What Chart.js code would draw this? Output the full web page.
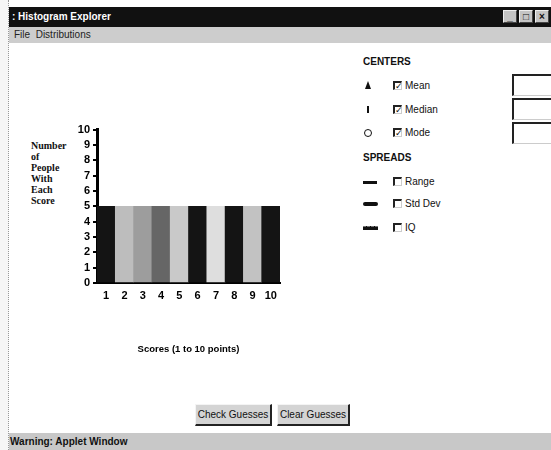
<!DOCTYPE html>
<html>
<head>
<meta charset="utf-8">
<script src="https://cdn.jsdelivr.net/npm/chart.js@4.4.0/dist/chart.umd.min.js"></script>
<style>
    body { margin: 0; width: 551px; height: 450px; position: relative; overflow: hidden; background: #fff; font-family: "Liberation Sans", Arial, sans-serif; color: #111; }
    .abs { position: absolute; }
    #edge { left: 0; top: 0; width: 8px; height: 450px; background: #f6f6f6; border-right: 1px dotted #999; }
    #titlebar { left: 9px; top: 7px; width: 542px; height: 20px; background: #111; color: #fff; font-size: 10px; font-weight: bold; line-height: 20px; padding-left: 3px; box-sizing: border-box; }
    .winbtn { top: 10px; width: 14px; height: 13px; background: #c4c4c4; border: 1px solid #eee; border-right-color: #444; border-bottom-color: #444; box-sizing: border-box; font-size: 10px; line-height: 11px; text-align: center; color: #111; font-weight: bold; }
    #menubar { left: 9px; top: 27px; width: 542px; height: 16px; background: #cdcdcd; font-size: 10px; line-height: 16px; padding-left: 5px; box-sizing: border-box; color: #222; }
    #chartBox { left: 60px; top: 120px; width: 240px; height: 250px; }
    #ytitle { left: 31px; top: 140px; font-family: "Liberation Serif", serif; font-weight: bold; font-size: 10px; line-height: 11px; }
    .txt { font-size: 10px; line-height: 12px; }
    .head { font-weight: bold; font-size: 10px; }
    .cb { width: 9px; height: 9px; border-top: 2px solid #222; border-left: 2px solid #222; border-right: 1px solid #ccc; border-bottom: 1px solid #ccc; box-sizing: border-box; font-size: 9px; line-height: 7px; text-align: center; font-family: "DejaVu Sans", sans-serif; font-weight: bold; }
    .field { left: 512px; width: 45px; height: 22px; border-top: 2px solid #222; border-left: 2px solid #222; border-right: 1px solid #ccc; border-bottom: 1px solid #ccc; box-sizing: border-box; background: #fff; }
    .btn { top: 404px; height: 22px; background: #d4d4d4; border: 1px solid #f4f4f4; border-right: 2px solid #222; border-bottom: 2px solid #222; box-sizing: border-box; font-size: 10px; line-height: 19px; text-align: center; color: #111; }
    #status { left: 9px; top: 433px; width: 542px; height: 17px; background: #c8c8c8; font-size: 10px; font-weight: bold; line-height: 18px; padding-left: 1px; box-sizing: border-box; color: #111; }
</style>
</head>
<body>
<div id="edge" class="abs"></div>
<div id="titlebar" class="abs">: Histogram Explorer</div>
<div class="abs winbtn" style="left:503px;">_</div>
<div class="abs winbtn" style="left:519px;">□</div>
<div class="abs winbtn" style="left:535px;">×</div>
<div id="menubar" class="abs">File&nbsp;&nbsp;Distributions</div>

<div id="ytitle" class="abs">Number<br>of<br>People<br>With<br>Each<br>Score</div>
<div id="chartBox" class="abs"><canvas id="histChart" width="240" height="250"></canvas></div>

<!-- right panel -->
<div class="abs head" style="left:363px; top:56px;">CENTERS</div>
<div class="abs" style="left:365px; top:81px; width:0; height:0; border-left:3px solid transparent; border-right:3px solid transparent; border-bottom:8px solid #111;"></div>
<div class="abs cb" style="left:393px; top:81px;">✓</div>
<div class="abs txt" style="left:405px; top:80px;">Mean</div>
<div class="abs" style="left:367px; top:106px; width:2px; height:7px; background:#111;"></div>
<div class="abs cb" style="left:393px; top:105px;">✓</div>
<div class="abs txt" style="left:405px; top:104px;">Median</div>
<div class="abs" style="left:364px; top:129px; width:6px; height:6px; border:1.5px solid #111; border-radius:50%;"></div>
<div class="abs cb" style="left:393px; top:128px;">✓</div>
<div class="abs txt" style="left:405px; top:127px;">Mode</div>

<div class="abs head" style="left:363px; top:152px;">SPREADS</div>
<div class="abs" style="left:363px; top:181px; width:14px; height:3px; background:#111;"></div>
<div class="abs cb" style="left:393px; top:177px;"></div>
<div class="abs txt" style="left:405px; top:176px;">Range</div>
<div class="abs" style="left:363px; top:202px; width:15px; height:4px; background:#111; border-radius:2px;"></div>
<div class="abs cb" style="left:393px; top:199px;"></div>
<div class="abs txt" style="left:405px; top:198px;">Std Dev</div>
<div class="abs" style="left:363px; top:226px; width:15px; height:3px; background:#111; border-top:1px dashed #777;"></div>
<div class="abs cb" style="left:393px; top:223px;"></div>
<div class="abs txt" style="left:405px; top:222px;">IQ</div>

<div class="abs field" style="top:74px;"></div>
<div class="abs field" style="top:98px;"></div>
<div class="abs field" style="top:122px;"></div>

<div class="abs btn" style="left:195px; width:77px;">Check Guesses</div>
<div class="abs btn" style="left:277px; width:73px;">Clear Guesses</div>

<div id="status" class="abs">Warning: Applet Window</div>

<script>
// Histogram data: one bar per score, all with 5 people
const scores = ['1', '2', '3', '4', '5', '6', '7', '8', '9', '10'];
const peopleCounts = [5, 5, 5, 5, 5, 5, 5, 5, 5, 5];
const barColors = ['#141414', '#bdbdbd', '#9d9d9d', '#666666', '#c9c9c9', '#141414', '#dedede', '#141414', '#c2c2c2', '#141414'];
const yMin = 0;
const yMax = 10;
const xTitle = 'Scores (1 to 10 points)';

const tickFont = { family: 'Liberation Sans', size: 11, weight: 'bold' };

new Chart(document.getElementById('histChart').getContext('2d'), {
    type: 'bar',
    data: {
        labels: scores,
        datasets: [{
            data: peopleCounts,
            backgroundColor: barColors,
            borderWidth: 0,
            barPercentage: 1,
            categoryPercentage: 1
        }]
    },
    options: {
        responsive: false,
        animation: false,
        devicePixelRatio: 1,
        layout: { padding: { top: 3, right: 20, left: 0, bottom: 0 } },
        plugins: {
            legend: { display: false },
            tooltip: { enabled: false }
        },
        scales: {
            x: {
                grid: { display: false, drawTicks: false },
                border: { display: true, color: '#000', width: 2 },
                ticks: { color: '#000', font: tickFont, padding: 6, maxRotation: 0, autoSkip: false },
                title: {
                    display: true,
                    text: xTitle,
                    color: '#000',
                    font: { family: 'Liberation Sans', size: 9.5, weight: 'bold' },
                    padding: { top: 0, bottom: 15 }
                },
                afterFit: scale => { scale.height = 87; }
            },
            y: {
                min: yMin,
                max: yMax,
                ticks: { stepSize: 1, autoSkip: false, color: '#000', font: tickFont, padding: 3 },
                grid: { drawOnChartArea: false, drawTicks: true, tickLength: 4, color: '#000', lineWidth: 2 },
                border: { display: true, color: '#000', width: 3 },
                afterFit: scale => { scale.width = 37; }
            }
        }
    }
});
</script>
</body>
</html>
